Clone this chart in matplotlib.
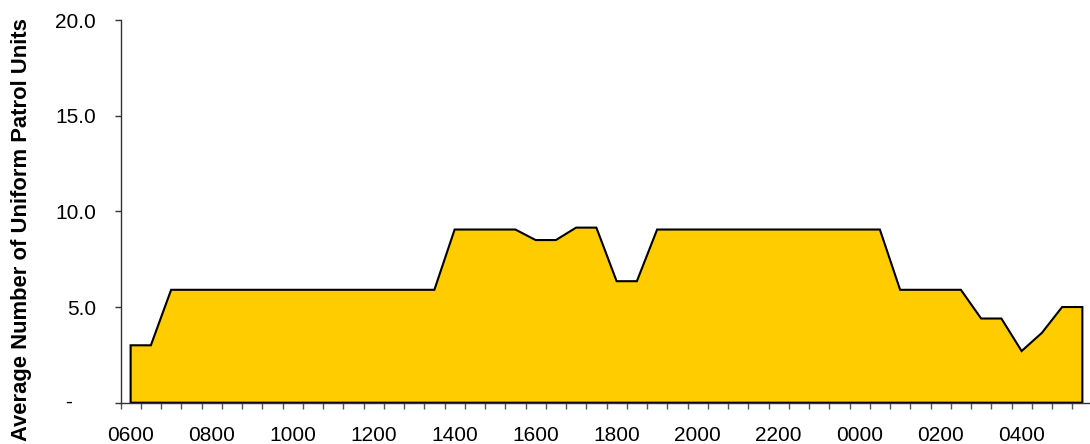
import matplotlib
matplotlib.use("Agg")
import matplotlib.pyplot as plt

plt.rcParams['font.family'] = ['Liberation Sans', 'DejaVu Sans']

# 30-minute slots from 0600 to 0530
slot_labels = ["0600", "0800", "1000", "1200", "1400", "1600", "1800",
               "2000", "2200", "0000", "0200", "0400"]
units = [3.0, 3.0, 5.9, 5.9, 5.9, 5.9, 5.9, 5.9, 5.9, 5.9, 5.9, 5.9,
         5.9, 5.9, 5.9, 5.9, 9.05, 9.05, 9.05, 9.05, 8.5, 8.5, 9.15, 9.15,
         6.35, 6.35, 9.05, 9.05, 9.05, 9.05, 9.05, 9.05, 9.05, 9.05, 9.05, 9.05,
         9.05, 9.05, 5.9, 5.9, 5.9, 5.9, 4.4, 4.4, 2.7, 3.65, 5.0, 5.0]
yticks = [0, 5, 10, 15, 20]
ytick_labels = ["", "5.0", "10.0", "15.0", "20.0"]

W, H = 1090, 444
fig = plt.figure(figsize=(W / 100, H / 100), dpi=100)
left, right = 120.5, 1092.5
bottom_px, top_px = 402.7, 20.0
ax = fig.add_axes([left / W, (H - bottom_px) / H, (right - left) / W, (bottom_px - top_px) / H])

n = len(units)
xc = [i + 0.5 for i in range(n)]
xpoly = [xc[0]] + xc + [xc[-1]]
ypoly = [0] + units + [0]
ax.fill(xpoly, ypoly, facecolor="#FFCC00", edgecolor="black", linewidth=1.5, zorder=2,
        joinstyle="miter")

ax.set_xlim(0, n)
ax.set_ylim(0, 20)

for s in ["top", "right"]:
    ax.spines[s].set_visible(False)
for s in ["left", "bottom"]:
    ax.spines[s].set_color("#333333")
    ax.spines[s].set_linewidth(1.0)
ax.spines["bottom"].set_zorder(3)

FS = 15
# minor ticks: marks between categories
ax.set_xticks(range(0, n), minor=True)
ax.tick_params(axis="x", which="minor", length=4.5, width=1, color="#555555", direction="out")
ax.set_xticks([xc[i] for i in range(0, n, 4)])
ax.set_xticklabels(slot_labels)
ax.tick_params(axis="x", which="major", length=0, pad=17, labelsize=FS)

ax.set_yticks(yticks)
ax.set_yticklabels(ytick_labels)
ax.tick_params(axis="y", length=4.5, width=1, color="#333333", pad=13, labelsize=FS)
ax.annotate("-", xy=(0, 0), xycoords=("axes fraction", "data"), xytext=(-52, 0),
            textcoords="offset pixels", ha="center", va="center", fontsize=FS)

fig.text(22 / W, 1 - 229.5 / H, "Average Number of Uniform Patrol Units", rotation=90,
         ha="center", va="center", fontsize=15.8, fontweight="bold")

fig.savefig("out.png", dpi=100)
